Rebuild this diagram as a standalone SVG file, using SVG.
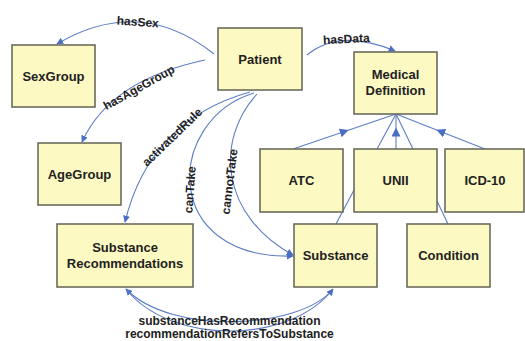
<svg xmlns="http://www.w3.org/2000/svg" width="525" height="341" viewBox="0 0 525 341">
<defs>
<marker id="arr" viewBox="0 0 10 10" refX="9" refY="5" markerWidth="7" markerHeight="7" markerUnits="userSpaceOnUse" orient="auto">
<path d="M0,0 L10,5 L0,10 z" fill="#4a6fc2"/>
</marker>
<marker id="mid" viewBox="0 0 10 10" refX="5" refY="5" markerWidth="9" markerHeight="9" markerUnits="userSpaceOnUse" orient="auto">
<path d="M0,0 L10,5 L0,10 z" fill="#4a6fc2"/>
</marker>
</defs>
<style>
.box{fill:#fcf9c2;stroke:#6b6b5c;stroke-width:1.6}
.nt{font-family:"Liberation Sans",Arial,sans-serif;font-weight:bold;font-size:13px;fill:#222;text-anchor:middle}
.el{font-family:"Liberation Sans",Arial,sans-serif;font-weight:bold;font-size:12px;fill:#222;text-anchor:middle}
.e{fill:none;stroke:#5d7ec4;stroke-width:1.1}
</style>
<rect width="525" height="341" fill="#fff"/>
<g id="connectors">
<path class="e" d="M214,54 Q140,-5 57,44" marker-end="url(#arr)"/>
<path class="e" d="M307,55 Q340,28 395,51" marker-end="url(#arr)"/>
<path class="e" d="M205,60 Q110,80 82,142" marker-end="url(#arr)"/>
<path class="e" d="M250,92 Q150,120 125,222" marker-end="url(#arr)"/>
<path class="e" d="M254,93 C165,120 160,260 293,256" marker-end="url(#arr)"/>
<path class="e" d="M257,94 C215,140 220,215 293,255" marker-end="url(#arr)"/>
<path class="e" d="M333,289 C300,330 170,335 126,289" marker-end="url(#arr)"/>
<path class="e" d="M126,289 C170,345 290,345 333,289" marker-end="url(#arr)"/>
<path class="e" d="M293,149 L344.5,131.5 L396,114" marker-mid="url(#mid)"/>
<path class="e" d="M485,149 L440.5,131.5 L396,114" marker-mid="url(#mid)"/>
<path class="e" d="M396,149 L396,132 L396,114" marker-mid="url(#mid)"/>
<path class="e" d="M377,149 L396,114 L413,149"/>
<path class="e" d="M354,190 L336,224"/>
<path class="e" d="M437,201 L448,224"/>
<text class="el" transform="translate(137.5,26) rotate(4)">hasSex</text>
<text class="el" transform="translate(346.5,43) rotate(-3)">hasData</text>
<text class="el" transform="translate(141,91) rotate(-29)">hasAgeGroup</text>
<text class="el" transform="translate(175,140) rotate(-44)">activatedRule</text>
<text class="el" transform="translate(194,190) rotate(-86)">canTake</text>
<text class="el" transform="translate(233.5,182) rotate(-83)">cannotTake</text>
<text class="el" x="229.5" y="325">substanceHasRecommendation</text>
<text class="el" x="229.5" y="337.5">recommendationRefersToSubstance</text>
</g>
<g id="SexGroup"><rect class="box" x="12" y="45" width="83" height="62"/><text class="nt" x="53.5" y="81">SexGroup</text></g>
<g id="Patient"><rect class="box" x="218" y="28" width="84" height="62"/><text class="nt" x="260" y="64">Patient</text></g>
<g id="MedicalDefinition"><rect class="box" x="354" y="52" width="83" height="62"/><text class="nt" x="395.5" y="79">Medical</text><text class="nt" x="395.5" y="95">Definition</text></g>
<g id="AgeGroup"><rect class="box" x="38" y="143" width="83" height="62"/><text class="nt" x="79.5" y="179">AgeGroup</text></g>
<g id="ATC"><rect class="box" x="260" y="149" width="83" height="63"/><text class="nt" x="301.5" y="185">ATC</text></g>
<g id="UNII"><rect class="box" x="354" y="149" width="83" height="63"/><text class="nt" x="395.5" y="185">UNII</text></g>
<g id="ICD10"><rect class="box" x="445" y="149" width="79" height="63"/><text class="nt" x="485" y="185">ICD-10</text></g>
<g id="SubstanceRecommendations"><rect class="box" x="57" y="224" width="136" height="63"/><text class="nt" x="125" y="252">Substance</text><text class="nt" x="125" y="268">Recommendations</text></g>
<g id="Substance"><rect class="box" x="294" y="224" width="83" height="63"/><text class="nt" x="335.5" y="260">Substance</text></g>
<g id="Condition"><rect class="box" x="407" y="224" width="83" height="63"/><text class="nt" x="448.5" y="260">Condition</text></g>
</svg>
